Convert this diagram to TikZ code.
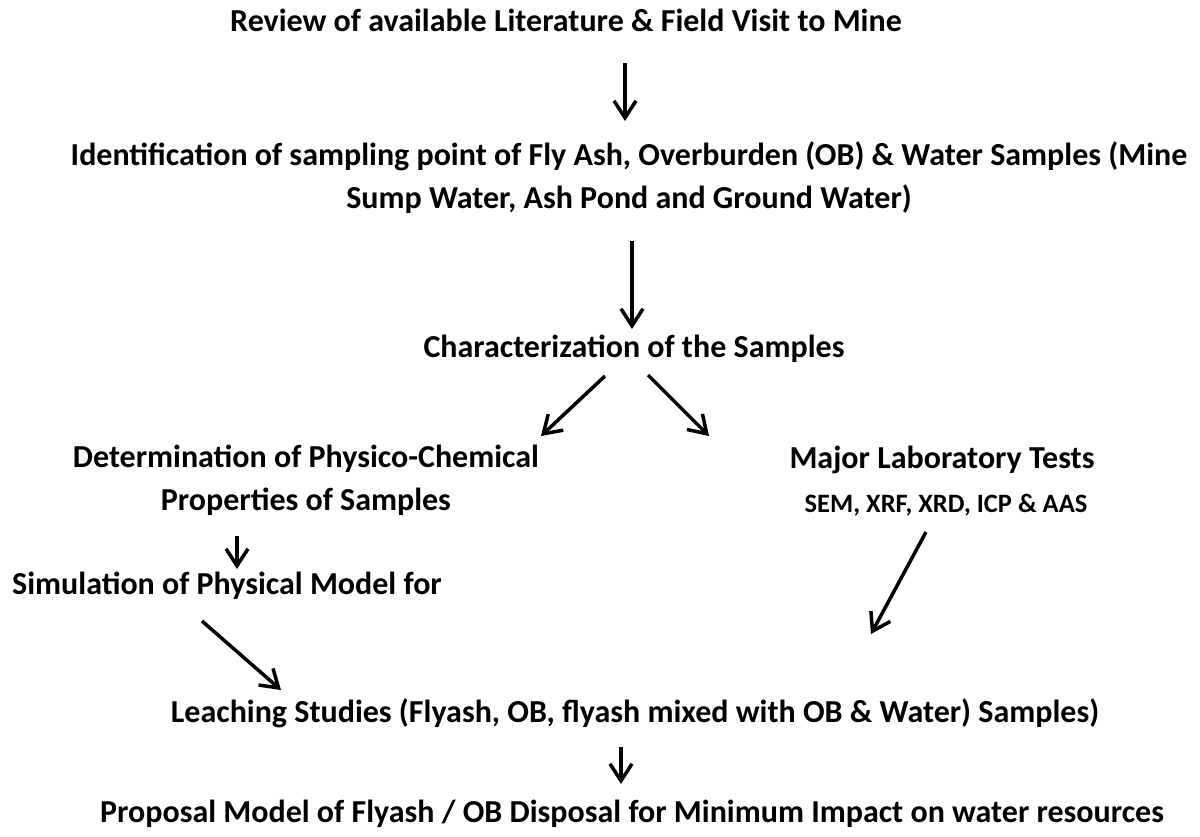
\documentclass[tikz,border=0pt]{standalone}
\usepackage{fontspec}
\setmainfont{Carlito}
\usetikzlibrary{arrows.meta}
\tikzset{
  lbl/.style={anchor=base, inner sep=0pt, font=\fontsize{32}{43}\selectfont\bfseries, align=center},
  sublbl/.style={anchor=base, inner sep=0pt, font=\fontsize{26.5}{30}\selectfont\bfseries},
  flow/.style={line width=3.5pt, -{Straight Barb[length=17pt, width=22pt, line width=3.5pt]}}
}
\begin{document}
\begin{tikzpicture}[x=1pt, y=-1pt]
\useasboundingbox (0,0) rectangle (1200,836);
\fill[white] (0,0) rectangle (1200,836);
\node[lbl] (rev) at (566,31) {Review of available Literature \& Field Visit to Mine};
\node[lbl, anchor=north] (ident) at (629,141.5) {Identification of sampling point of Fly Ash, Overburden (OB) \& Water Samples (Mine\\Sump Water, Ash Pond and Ground Water)};
\node[lbl] (char) at (634,357) {Characterization of the Samples};
\node[lbl, anchor=north] (det) at (306,444.5) {Determination of Physico-Chemical\\Properties of Samples};
\node[lbl] (maj) at (942,468) {Major Laboratory Tests};
\node[sublbl] (sem) at (946,512) {SEM, XRF, XRD, ICP \& AAS};
\node[lbl, anchor=base west] (sim) at (12,594) {Simulation of Physical Model for};
\node[lbl] (leach) at (635,722) {Leaching Studies (Flyash, OB, flyash mixed with OB \& Water) Samples)};
\node[lbl] (prop) at (632,822) {Proposal Model of Flyash / OB Disposal for Minimum Impact on water resources};

\coordinate (a1s) at (625,63);  \coordinate (a1e) at (625,121);
\coordinate (a2s) at (632,241); \coordinate (a2e) at (632,329);
\coordinate (a3s) at (605,376); \coordinate (a3e) at (541,436);
\coordinate (a4s) at (648,375); \coordinate (a4e) at (709,436);
\coordinate (a5s) at (237,536); \coordinate (a5e) at (237,569);
\coordinate (a6s) at (202,621); \coordinate (a6e) at (281,690);
\coordinate (a7s) at (926,532); \coordinate (a7e) at (871,634);
\coordinate (a8s) at (621,747); \coordinate (a8e) at (621,784);

\draw[flow] (a1s) -- (a1e);
\draw[flow] (a2s) -- (a2e);
\draw[flow] (a3s) -- (a3e);
\draw[flow] (a4s) -- (a4e);
\draw[flow] (a5s) -- (a5e);
\draw[flow] (a6s) -- (a6e);
\draw[flow] (a7s) -- (a7e);
\draw[flow] (a8s) -- (a8e);
\end{tikzpicture}
\end{document}
